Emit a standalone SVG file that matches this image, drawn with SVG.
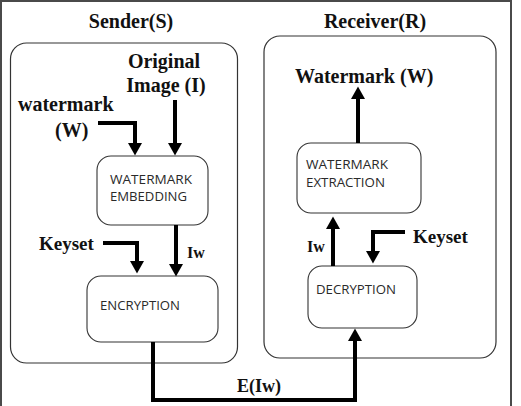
<svg xmlns="http://www.w3.org/2000/svg" width="521" height="406" viewBox="0 0 521 406">
<style>
.frame{fill:none;stroke:#4a4a4a;stroke-width:2}
.panel{fill:#fff;stroke:#333;stroke-width:1.2}
.box{fill:#fff;stroke:#333;stroke-width:1.1}
.lbl{font-family:"Liberation Serif",serif;font-weight:bold;fill:#111}
.bt{font-family:"Open Sans",sans-serif;font-size:12px;fill:#2a2a2a}
.con{fill:none;stroke:#000;stroke-width:4}
.arr{marker-end:url(#ah)}
</style>
<defs>
<marker id="ah" markerUnits="userSpaceOnUse" markerWidth="14" markerHeight="16" viewBox="0 -8 13 16" refX="0" refY="0" orient="auto">
<path d="M0,-7 L12.5,0 L0,7 z" fill="#000"/>
</marker>
</defs>
<rect width="521" height="406" fill="#fff"/>
<rect class="frame" x="1" y="1" width="510" height="420"/>

<g id="sender">
<rect class="panel" x="10.5" y="43" width="227" height="320" rx="16"/>
<text class="lbl" x="131" y="28" font-size="20" text-anchor="middle">Sender(S)</text>
</g>
<g id="receiver">
<rect class="panel" x="264" y="36" width="232" height="322" rx="16"/>
<text class="lbl" x="375" y="28" font-size="20" text-anchor="middle">Receiver(R)</text>
</g>

<g id="input-image">
<text class="lbl" x="164" y="68" font-size="20" text-anchor="middle">Original</text>
<text class="lbl" x="166" y="92" font-size="20" text-anchor="middle">Image (I)</text>
</g>
<g id="input-watermark">
<text class="lbl" x="18" y="111" font-size="20">watermark</text>
<text class="lbl" x="55" y="137" font-size="20">(W)</text>
</g>
<g id="keyset-s">
<text class="lbl" x="39" y="250" font-size="19">Keyset</text>
</g>
<g id="keyset-r">
<text class="lbl" x="413" y="243" font-size="19">Keyset</text>
</g>
<g id="output-watermark">
<text class="lbl" x="295" y="83" font-size="20">Watermark (W)</text>
</g>

<g id="embedding">
<rect class="box" x="97" y="156" width="111" height="69" rx="14"/>
<text class="bt" x="110" y="184" textLength="82" lengthAdjust="spacingAndGlyphs">WATERMARK</text>
<text class="bt" x="110" y="201" textLength="77" lengthAdjust="spacingAndGlyphs">EMBEDDING</text>
</g>
<g id="encryption">
<rect class="box" x="87" y="276" width="131" height="66" rx="14"/>
<text class="bt" x="100" y="310" textLength="80" lengthAdjust="spacingAndGlyphs">ENCRYPTION</text>
</g>
<g id="extraction">
<rect class="box" x="297" y="143" width="124" height="70" rx="14"/>
<text class="bt" x="306" y="169" textLength="82" lengthAdjust="spacingAndGlyphs">WATERMARK</text>
<text class="bt" x="306" y="187" textLength="79" lengthAdjust="spacingAndGlyphs">EXTRACTION</text>
</g>
<g id="decryption">
<rect class="box" x="308" y="266" width="109" height="62" rx="14"/>
<text class="bt" x="316" y="294" textLength="80" lengthAdjust="spacingAndGlyphs">DECRYPTION</text>
</g>

<g id="connectors">
<path class="con arr" d="M98,123 H135 V143"/>
<path class="con arr" d="M175,100 V143"/>
<path class="con arr" d="M176,225 V264"/>
<path class="con arr" d="M103,243 H137 V261"/>
<path class="con arr" d="M153,342 V400 H355 V341"/>
<path class="con arr" d="M333,266 V229"/>
<path class="con arr" d="M405,232 H373 V251"/>
<path class="con arr" d="M358,143 V99"/>
<text class="lbl" x="187" y="258" font-size="16">Iw</text>
<text class="lbl" x="307" y="252" font-size="16">Iw</text>
<text class="lbl" x="237" y="392" font-size="18">E(Iw)</text>
</g>
</svg>
